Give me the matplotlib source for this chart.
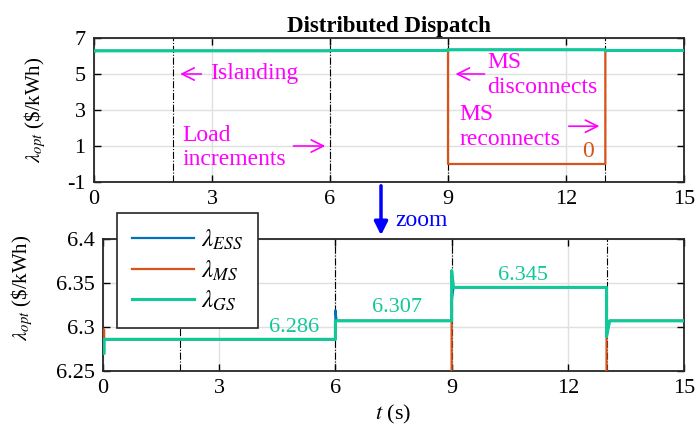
import matplotlib
matplotlib.use('Agg')
import matplotlib.pyplot as plt

plt.rcParams['font.family'] = ['Liberation Serif', 'DejaVu Serif']
plt.rcParams['mathtext.fontset'] = 'stix'
plt.rcParams['axes.unicode_minus'] = False

# event times (dash-dot markers)
events = [2, 6, 9, 13]

# step series, breakpoints
t_ess = [0, 6, 6, 6.03, 9, 9, 9.05, 13, 13, 13.08, 15]
ess = [6.286, 6.286, 6.319, 6.307, 6.307, 6.33, 6.345, 6.345, 6.30, 6.307, 6.307]

t_ms = [0, 0.03, 0.03, 6, 6, 9, 9, 13, 13, 13.08, 15]
ms = [6.297, 6.297, 6.286, 6.286, 6.307, 6.307, 0, 0, 6.29, 6.307, 6.307]

t_gs = [0, 0.03, 0.03, 6, 6, 9, 9, 9.05, 13, 13, 13.08, 15]
gs = [6.27, 6.27, 6.286, 6.286, 6.307, 6.307, 6.364, 6.345, 6.345, 6.289, 6.307, 6.307]

levels = [6.286, 6.307, 6.345]
level_pos = [(4.93, 6.300), (7.59, 6.322), (10.84, 6.359)]

c_ess = '#0072BD'
c_ms = '#D95319'
c_gs = '#10C898'
mag = '#FF00FF'

fig = plt.figure(figsize=(6.96, 4.30), dpi=100)
ax1 = fig.add_axes([94 / 696, 1 - 182 / 430, 590 / 696, 144 / 430])
ax2 = fig.add_axes([103 / 696, 1 - 371 / 430, 581 / 696, 132 / 430])


def style(ax):
    ax.grid(True, color='#e0e0e0', lw=1.0)
    ax.set_axisbelow(True)
    ax.tick_params(direction='in', top=True, right=True, labelsize=16,
                   length=5, width=1.0, pad=6)
    for s in ax.spines.values():
        s.set_linewidth(1.3)
        s.set_color('#262626')
    ax.set_xlim(0, 15)
    ax.set_xticks([0, 3, 6, 9, 12, 15])


for ax in (ax1, ax2):
    style(ax)
    for e in events:
        ax.axvline(e, color='k', ls='-.', lw=0.8, zorder=1)
    ax.plot(t_ess, ess, color=c_ess, lw=1.6, label=r'$\lambda_{\mathit{ESS}}$', zorder=3)
    ax.plot(t_ms, ms, color=c_ms, lw=1.6, label=r'$\lambda_{\mathit{MS}}$', zorder=3)
    ax.plot(t_gs, gs, color=c_gs, lw=2.2, label=r'$\lambda_{\mathit{GS}}$', zorder=4)

# top panel
ax1.set_ylim(-1, 7)
ax1.set_yticks([-1, 1, 3, 5, 7])
ax1.set_title('Distributed Dispatch', fontsize=16.5, fontweight='bold', pad=4)
ax1.set_ylabel(r'$\lambda_{opt}$ (\$/kWh)', fontsize=15)
ax1.yaxis.set_label_coords(-0.078, 0.5)

arrow = dict(arrowstyle='->', color=mag, lw=1.2, mutation_scale=22)
ax1.annotate('', xy=(2.12, 5), xytext=(2.8, 5), arrowprops=arrow)
ax1.text(2.95, 5, 'Islanding', color=mag, fontsize=17, va='center')
ax1.text(2.24, 0.9, 'Load\nincrements', color=mag, fontsize=17, va='center',
         linespacing=1.2)
ax1.annotate('', xy=(5.95, 1), xytext=(5.0, 1), arrowprops=arrow)
ax1.annotate('', xy=(9.12, 5), xytext=(10.0, 5), arrowprops=arrow)
ax1.text(10.0, 4.95, 'MS\ndisconnects', color=mag, fontsize=17, va='center',
         linespacing=1.2)
ax1.text(9.28, 2.05, 'MS\nreconnects', color=mag, fontsize=17, va='center',
         linespacing=1.2)
ax1.annotate('', xy=(12.92, 2.1), xytext=(12.0, 2.1), arrowprops=arrow)
ax1.text(12.56, 0.67, '0', color=c_ms, fontsize=17, ha='center', va='center')

# bottom panel
ax2.set_ylim(6.25, 6.4)
ax2.set_yticks([6.25, 6.3, 6.35, 6.4])
ax2.set_yticklabels(['6.25', '6.3', '6.35', '6.4'])
ax2.set_ylabel(r'$\lambda_{opt}$ (\$/kWh)', fontsize=15)
ax2.yaxis.set_label_coords(-0.117, 0.63)
ax2.set_xlabel(r'$t$ (s)', fontsize=16, labelpad=3)
for v, (x, y) in zip(levels, level_pos):
    ax2.text(x, y, f'{v:.3f}', color=c_gs, fontsize=16, ha='center', va='center')

leg = ax2.legend(loc='upper left', bbox_to_anchor=(0.024, 1.197), borderaxespad=0,
                 fontsize=18, handlelength=2.5, handletextpad=0.25, fancybox=False,
                 framealpha=1, edgecolor='#262626', labelspacing=0.25, borderpad=0.6)
leg.get_frame().set_linewidth(1.2)
leg.set_zorder(10)

# zoom arrow between the panels
fig.add_artist(matplotlib.patches.FancyArrowPatch(
    (381, 430 - 183), (381, 430 - 238), transform=None, arrowstyle='-|>',
    mutation_scale=20, color='#0000FF', lw=2.5))
fig.text(395 / 696, 1 - 220 / 430, 'zoom', color='#0000FF', fontsize=17, va='center')

fig.savefig('out.png', dpi=100)
